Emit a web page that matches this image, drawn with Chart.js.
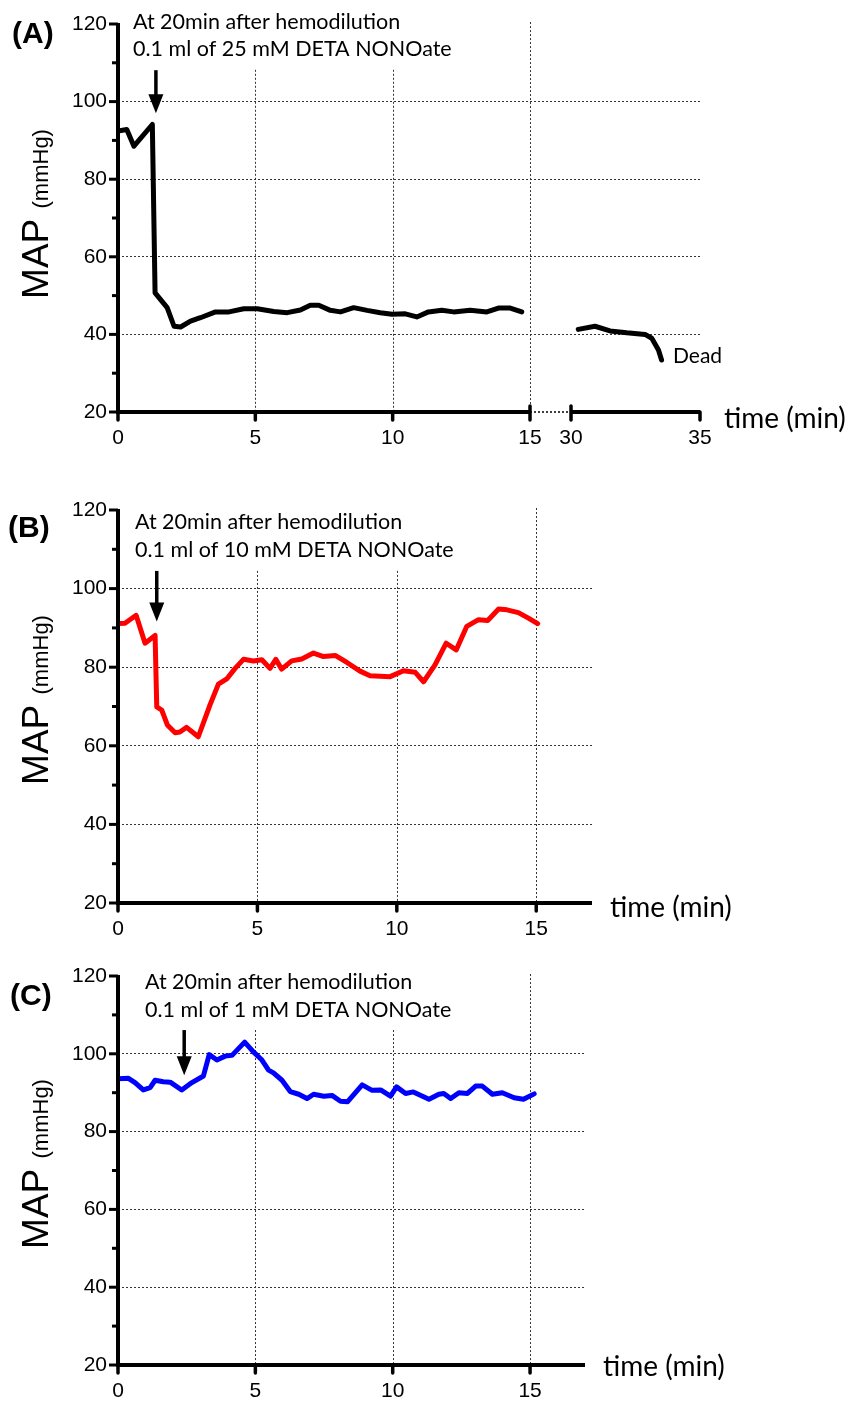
<!DOCTYPE html>
<html>
<head>
<meta charset="utf-8">
<script src="https://cdn.jsdelivr.net/npm/chart.js@4.4.1/dist/chart.umd.min.js"></script>
<style>
  html, body { margin: 0; padding: 0; background: #fff; }
  #wrap { position: relative; width: 856px; height: 1406px; }
  #wrap canvas { position: absolute; left: 0; top: 0; }
</style>
</head>
<body>
<div id="wrap">
  <canvas id="cA1" width="856" height="1406"></canvas>
  <canvas id="cA2" width="856" height="1406"></canvas>
  <canvas id="cB" width="856" height="1406"></canvas>
  <canvas id="cC" width="856" height="1406"></canvas>
</div>
<script>
(function () {
  "use strict";

  // ---- axis values ----
  const yMajor = [20, 40, 60, 80, 100, 120];
  const yMinor = [30, 50, 70, 90, 110];
  const yGrid = [40, 60, 80, 100];
  const xTicksMain = [0, 5, 10, 15];
  const xTicksLate = [30, 35];

  // ---- (A) 25 mM, 0-15 min and 30-35 min ----
  const timeA = [0, 0.32, 0.58, 1.25, 1.35, 1.79, 2.04, 2.28, 2.64, 3.0, 3.55, 4.04, 4.58, 5.07, 5.67, 6.16,
    6.64, 7.0, 7.31, 7.73, 8.1, 8.58, 9.07, 9.55, 9.98, 10.46, 10.88, 11.3, 11.79, 12.22, 12.82, 13.43, 13.85,
    14.28, 14.7];
  const mapA = [92.4, 92.8, 88.5, 94.1, 50.7, 46.9, 42.1, 41.9, 43.4, 44.3, 45.8, 45.8, 46.6, 46.6, 45.9, 45.6,
    46.3, 47.5, 47.5, 46.2, 45.8, 46.9, 46.2, 45.6, 45.2, 45.3, 44.5, 45.8, 46.2, 45.8, 46.2, 45.8, 46.8,
    46.8, 45.8];
  const timeA2 = [30.28, 30.93, 31.51, 32.16, 32.87, 33.13, 33.39, 33.51];
  const mapA2 = [41.3, 42.1, 40.9, 40.4, 40.0, 39.0, 36.0, 33.4];

  // ---- (B) 10 mM ----
  const timeB = [0, 0.25, 0.65, 0.97, 1.33, 1.39, 1.57, 1.77, 2.05, 2.22, 2.46, 2.88, 3.3, 3.6, 3.9, 4.2, 4.5,
    4.86, 5.16, 5.45, 5.66, 5.87, 6.23, 6.59, 7.01, 7.37, 7.79, 8.21, 8.68, 9.04, 9.76, 10.24, 10.66, 10.96,
    11.37, 11.77, 12.13, 12.51, 12.93, 13.26, 13.65, 13.95, 14.36, 14.72, 15.05];
  const mapB = [91.1, 91.2, 93.2, 86.1, 88.1, 69.9, 69.1, 65.3, 63.3, 63.5, 64.7, 62.3, 70.4, 75.7, 77.0, 79.7,
    82.0, 81.6, 81.9, 79.7, 82.0, 79.5, 81.6, 82.1, 83.6, 82.7, 83.0, 81.2, 79.0, 77.8, 77.6, 79.1, 78.7, 76.3,
    80.6, 86.1, 84.4, 90.4, 92.1, 91.9, 94.8, 94.6, 93.9, 92.5, 91.1];

  // ---- (C) 1 mM ----
  const timeC = [0, 0.38, 0.62, 0.92, 1.17, 1.35, 1.65, 1.9, 2.32, 2.69, 3.11, 3.32, 3.6, 3.9, 4.15, 4.61, 4.93,
    5.24, 5.48, 5.66, 5.97, 6.27, 6.58, 6.88, 7.12, 7.49, 7.79, 8.1, 8.36, 8.89, 9.25, 9.56, 9.92, 10.14, 10.47,
    10.75, 11.32, 11.68, 11.86, 12.11, 12.41, 12.72, 13.02, 13.26, 13.63, 13.99, 14.42, 14.76, 15.15];
  const mapC = [93.6, 93.7, 92.6, 90.7, 91.3, 93.2, 92.8, 92.7, 90.7, 92.6, 94.3, 99.8, 98.4, 99.4, 99.6, 103.0,
    100.5, 98.4, 95.8, 95.1, 93.2, 90.3, 89.6, 88.5, 89.6, 89.1, 89.3, 87.8, 87.7, 92.0, 90.6, 90.7, 89.1, 91.5,
    89.8, 90.2, 88.3, 89.6, 89.8, 88.5, 90.0, 89.8, 91.7, 91.7, 89.6, 90.0, 88.7, 88.3, 89.7];

  // injection arrows (time, arrow top, arrow tip in mmHg)
  const arrowTime = [1.38, 1.39, 2.41];
  const arrowTop = [108.1, 104.5, 106.1];
  const arrowTip = [97.0, 91.6, 94.5];

  const noteLine1 = "At 20min after hemodilution";
  const doseLines = ["0.1 ml of 25 mM DETA NONOate", "0.1 ml of 10 mM DETA NONOate", "0.1 ml of 1 mM DETA NONOate"];

  const W = 856, H = 1406;
  const SANS = '"Liberation Sans", Arial, sans-serif';
  const CAL = 'Lato, "Open Sans", sans-serif';

  function px(scale, v) { return scale.getPixelForValue(v); }

  const decor = {
    id: "decor",
    beforeDatasetsDraw(chart, args, o) {
      const { ctx, chartArea: a, scales: { x, y } } = chart;
      ctx.save();
      ctx.strokeStyle = "#333";
      ctx.lineWidth = 1;
      ctx.setLineDash([2, 2]);
      (o.vGrid || []).forEach(function (g) {
        const gx = Math.round(px(x, g.at)) + 0.5;
        ctx.beginPath();
        ctx.moveTo(gx, px(y, g.from));
        ctx.lineTo(gx, a.bottom);
        ctx.stroke();
      });
      ctx.restore();
    },
    afterDraw(chart, args, o) {
      const { ctx, chartArea: a, scales: { x, y } } = chart;
      ctx.save();
      ctx.strokeStyle = "#000";
      ctx.fillStyle = "#000";
      // dotted gap of the broken axis
      if (o.gap) {
        ctx.lineWidth = 1.5;
        ctx.setLineDash([2, 2]);
        ctx.beginPath();
        ctx.moveTo(px(x, o.gap[0]), a.bottom);
        ctx.lineTo(px(x, o.gap[1]), a.bottom);
        ctx.stroke();
        ctx.setLineDash([]);
      }
      // y axis
      if (o.yAxis) {
        ctx.lineWidth = 4;
        ctx.beginPath();
        ctx.moveTo(a.left, a.top - 1);
        ctx.lineTo(a.left, a.bottom + 2);
        ctx.stroke();
        ctx.lineWidth = 3;
        yMajor.forEach(function (v) {
          const p = px(y, v);
          ctx.beginPath(); ctx.moveTo(a.left - 9, p); ctx.lineTo(a.left, p); ctx.stroke();
        });
        yMinor.forEach(function (v) {
          const p = px(y, v);
          ctx.beginPath(); ctx.moveTo(a.left - 6, p); ctx.lineTo(a.left, p); ctx.stroke();
        });
      }
      // x axis
      ctx.lineWidth = 4;
      ctx.beginPath();
      ctx.moveTo(px(x, o.xSolid[0]) - (o.yAxis ? 2 : 0), a.bottom);
      ctx.lineTo(px(x, o.xSolid[1]), a.bottom);
      ctx.stroke();
      ctx.lineWidth = 3.5;
      ctx.lineCap = "round";
      (o.xMarks || []).forEach(function (m) {
        const p = px(x, m.at);
        ctx.beginPath();
        ctx.moveTo(p, a.bottom - (m.brk ? 6 : 0));
        ctx.lineTo(p, a.bottom + 8);
        ctx.stroke();
      });
      ctx.lineCap = "butt";
      // injection arrow
      if (o.arrow) {
        const ax = px(x, o.arrow.at), top = px(y, o.arrow.top), tip = px(y, o.arrow.tip);
        ctx.lineWidth = 3.5;
        ctx.beginPath(); ctx.moveTo(ax, top); ctx.lineTo(ax, tip - 17); ctx.stroke();
        ctx.beginPath();
        ctx.moveTo(ax - 7.5, tip - 19);
        ctx.lineTo(ax + 7.5, tip - 19);
        ctx.lineTo(ax, tip);
        ctx.closePath();
        ctx.fill();
      }
      // texts
      ctx.textAlign = "left";
      ctx.textBaseline = "alphabetic";
      (o.texts || []).forEach(function (t) {
        ctx.font = t.font;
        ctx.fillText(t.s, t.x, t.y);
      });
      // rotated y title
      if (o.yTitle) {
        ctx.translate(o.yTitle.x, o.yTitle.cy);
        ctx.rotate(-Math.PI / 2);
        const f1 = "37px " + SANS, f2 = "22px " + SANS;
        ctx.font = f1; const w1 = ctx.measureText("MAP ").width;
        ctx.font = f2; const w2 = ctx.measureText("(mmHg)").width;
        let sx = -(w1 + w2) / 2;
        ctx.font = f1; ctx.fillText("MAP", sx, 0);
        ctx.font = f2; ctx.fillText("(mmHg)", sx + w1, 0);
      }
      ctx.restore();
    }
  };

  function gridColor(c) {
    return c.tick && yGrid.indexOf(c.tick.value) >= 0 ? "#333" : "rgba(0,0,0,0)";
  }

  function makeChart(id, p) {
    return new Chart(document.getElementById(id), {
      type: "line",
      data: {
        datasets: [{
          data: p.t.map(function (t, i) { return { x: t, y: p.v[i] }; }),
          borderColor: p.color,
          borderWidth: 5,
          pointRadius: 0,
          tension: 0,
          fill: false,
          borderJoinStyle: "round",
          borderCapStyle: "round"
        }]
      },
      options: {
        responsive: false,
        animation: false,
        events: [],
        layout: { padding: { left: 0, top: p.top, right: W - p.right, bottom: 0 } },
        plugins: { legend: { display: false }, tooltip: { enabled: false }, decor: p.decor },
        scales: {
          x: {
            type: "linear",
            min: p.xMin,
            max: p.xMax,
            afterBuildTicks: function (s) { s.ticks = p.xTicks.map(function (v) { return { value: v }; }); },
            afterFit: function (s) { s.height = H - p.bottom; },
            grid: { display: false, drawTicks: false },
            border: { display: false },
            ticks: {
              padding: 14, color: "#000", autoSkip: false, maxRotation: 0,
              font: { family: SANS, size: 21 }
            }
          },
          y: {
            type: "linear",
            min: 20,
            max: 120,
            afterBuildTicks: function (s) {
              s.ticks = yMajor.concat(yMinor).sort(function (m, n) { return m - n; })
                .map(function (v) { return { value: v }; });
            },
            afterFit: function (s) { s.width = p.left; },
            grid: { drawTicks: false, lineWidth: 1, color: gridColor },
            border: { display: false, dash: [2, 2] },
            ticks: {
              display: p.yLabels,
              padding: 11, color: "#000",
              font: { family: SANS, size: 21 },
              callback: function (v) { return yMajor.indexOf(v) >= 0 ? String(v) : ""; }
            }
          }
        }
      },
      plugins: [decor]
    });
  }

  function notes(i, x, y1, y2) {
    return [
      { s: noteLine1, x: x, y: y1, font: "21.5px " + CAL },
      { s: doseLines[i], x: x, y: y2, font: "21.5px " + CAL }
    ];
  }

  // (A) left part 0-15 min
  makeChart("cA1", {
    t: timeA, v: mapA, color: "#000",
    left: 118, right: 530, top: 24, bottom: 412,
    xMin: 0, xMax: 15, xTicks: xTicksMain, yLabels: true,
    decor: {
      yAxis: true,
      xSolid: [0, 15],
      xMarks: [{ at: 0 }, { at: 5 }, { at: 10 }, { at: 15, brk: true }],
      vGrid: [{ at: 5, from: 108.2 }, { at: 10, from: 108.2 }, { at: 15, from: 120.5 }],
      arrow: { at: arrowTime[0], top: arrowTop[0], tip: arrowTip[0] },
      yTitle: { x: 48, cy: 214 },
      texts: [{ s: "(A)", x: 12, y: 43, font: "bold 30px " + SANS }].concat(notes(0, 133, 29, 56))
    }
  });

  // (A) right part 30-35 min after the axis break
  makeChart("cA2", {
    t: timeA2, v: mapA2, color: "#000",
    left: 530, right: 700, top: 24, bottom: 412,
    xMin: 28.41, xMax: 35, xTicks: xTicksLate, yLabels: false,
    decor: {
      yAxis: false,
      gap: [28.41, 30],
      xSolid: [30, 35],
      xMarks: [{ at: 30, brk: true }, { at: 35 }],
      texts: [
        { s: "Dead", x: 673, y: 363, font: "21px " + CAL },
        { s: "time (min)", x: 724, y: 428, font: "28px " + CAL }
      ]
    }
  });

  makeChart("cB", {
    t: timeB, v: mapB, color: "#ff0000",
    left: 118, right: 592, top: 510, bottom: 903,
    xMin: 0, xMax: 17, xTicks: xTicksMain, yLabels: true,
    decor: {
      yAxis: true,
      xSolid: [0, 17],
      xMarks: [{ at: 0 }, { at: 5 }, { at: 10 }, { at: 15 }],
      vGrid: [{ at: 5, from: 104.5 }, { at: 10, from: 104.5 }, { at: 15, from: 120.5 }],
      arrow: { at: arrowTime[1], top: arrowTop[1], tip: arrowTip[1] },
      yTitle: { x: 48, cy: 700 },
      texts: [
        { s: "(B)", x: 8, y: 537, font: "bold 30px " + SANS },
        { s: "time (min)", x: 610, y: 917, font: "28px " + CAL }
      ].concat(notes(1, 135, 529, 557))
    }
  });

  makeChart("cC", {
    t: timeC, v: mapC, color: "#0000ff",
    left: 118, right: 585, top: 976, bottom: 1365,
    xMin: 0, xMax: 17, xTicks: xTicksMain, yLabels: true,
    decor: {
      yAxis: true,
      xSolid: [0, 17],
      xMarks: [{ at: 0 }, { at: 5 }, { at: 10 }, { at: 15 }],
      vGrid: [{ at: 5, from: 106.1 }, { at: 10, from: 106.1 }, { at: 15, from: 120.5 }],
      arrow: { at: arrowTime[2], top: arrowTop[2], tip: arrowTip[2] },
      yTitle: { x: 48, cy: 1164 },
      texts: [
        { s: "(C)", x: 10, y: 1005, font: "bold 30px " + SANS },
        { s: "time (min)", x: 603, y: 1376, font: "28px " + CAL }
      ].concat(notes(2, 145, 989, 1017))
    }
  });
})();
</script>
</body>
</html>
